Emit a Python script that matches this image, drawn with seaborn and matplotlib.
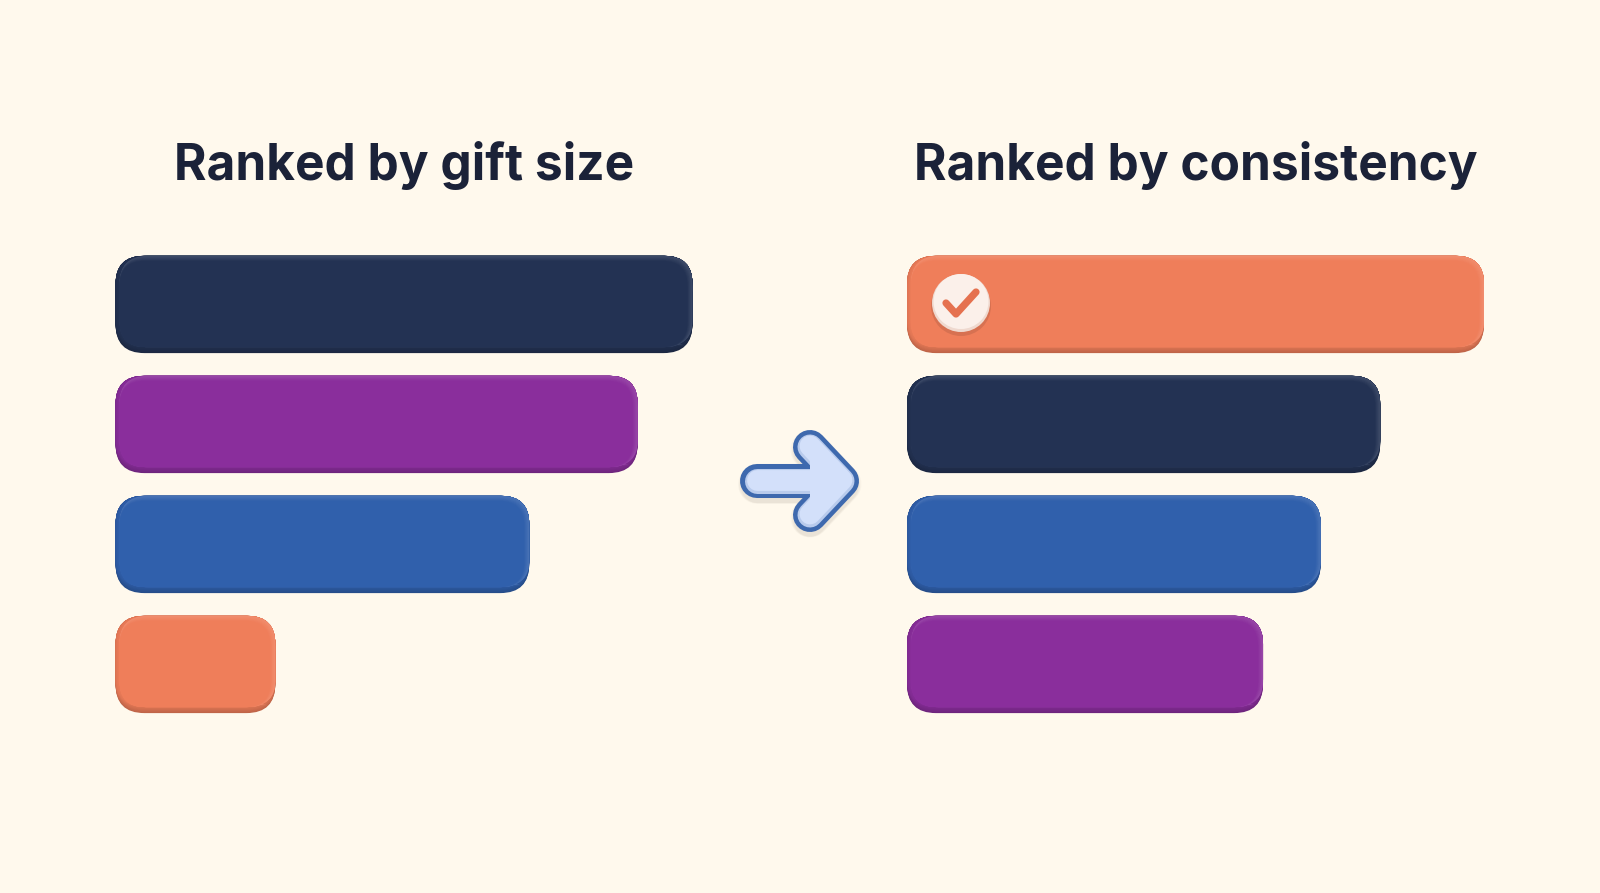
import matplotlib
matplotlib.use("Agg")
import matplotlib.pyplot as plt
import matplotlib.colors as mc
from matplotlib.patches import FancyBboxPatch, Circle, Polygon
import seaborn as sns

W, H = 1600, 893
BG = "#FFF9ED"
INK = "#1B2238"

# colours per donor
colores = {"navy": "#233253", "purple": "#8A2E9C", "blue": "#3060AC", "orange": "#EF7E5A"}

# estimated bar lengths, longest = 100
gift_names = ["navy", "purple", "blue", "orange"]
gift_values = [100, 90.5, 71.7, 27.7]
cons_names = ["orange", "navy", "blue", "purple"]
cons_values = [100, 82, 71.7, 61.7]

titles = ["Ranked by gift size", "Ranked by consistency"]

sns.set_theme(style="white")
plt.rcParams["font.family"] = ["Inter", "DejaVu Sans"]

fig = plt.figure(figsize=(W / 100, H / 100), dpi=100, facecolor=BG)


def pos(x0, x1, y0, y1):
    return [x0 / W, 1 - y1 / H, (x1 - x0) / W, (y1 - y0) / H]


ax1 = fig.add_axes(pos(115.5, 692.5, 244.5, 724.5))
ax2 = fig.add_axes(pos(907, 1484, 244.5, 724.5))
# overlay in pixels, so the corners stay round
over = fig.add_axes([0, 0, 1, 1], zorder=5)
over.set_xlim(0, W)
over.set_ylim(H, 0)
over.axis("off")


def blend(a, b, t):
    a, b = mc.to_rgb(a), mc.to_rgb(b)
    return tuple(a[i] + (b[i] - a[i]) * t for i in range(3))


def rbox(x0, y0, x1, y1, r, color, z=2):
    p = FancyBboxPatch((x0, y0), x1 - x0, y1 - y0, boxstyle=f"round,pad=0,rounding_size={r}",
                       fc=color, ec="none", lw=0, zorder=z)
    over.add_patch(p)


def soft_bar(x0, y0, x1, y1, base):
    dark = blend(base, "black", 0.2)
    side = blend(base, "black", 0.07)
    light = blend(base, "white", 0.12)
    mid = (y0 + y1) / 2
    rbox(x0, y0, x1, y1, 29, dark)
    n = 7
    # bottom edge fades out of the dark rim
    for i in range(1, n + 1):
        t = i / n
        rbox(x0, y0, x1, y1 - 6 * t, 29 - t, blend(dark, side, t), 3)
    # left edge
    for i in range(1, n + 1):
        t = i / n
        rbox(x0 + 4 * t, y0, x1, y1 - 6, 28, blend(side, base, t), 3)
    # highlight on top and right, the body covers it further in
    rbox(x0 + 4, y0, x1, mid + 10, 28, light, 3)
    rbox(x1 - 30, y0 + 10, x1, y1 - 8, 24, light, 3)
    for i in range(1, n + 1):
        t = i / n
        rbox(x0 + 4, y0 + 5 * t, x1 - 5 * t, y1 - 6, 28 - 3 * t, blend(light, base, t), 4)


for ax, names, values, title in zip([ax1, ax2], [gift_names, cons_names], [gift_values, cons_values], titles):
    sns.barplot(x=values, y=names, hue=names, palette=colores, order=names, hue_order=names,
                dodge=False, width=0.81, saturation=1, legend=False, ax=ax)
    ax.set_xlim(0, 100)
    ax.set_ylim(3.5, -0.5)
    ax.axis("off")
    ax.set_title(title, fontsize=35.7, fontweight="bold", color=INK, pad=46.2)
    fig.canvas.draw()
    to_px = ax.transData + over.transData.inverted()
    for b in list(ax.patches):
        xa, ya = to_px.transform((b.get_x(), b.get_y()))
        xb, yb = to_px.transform((b.get_x() + b.get_width(), b.get_y() + b.get_height()))
        soft_bar(xa, min(ya, yb), xb, max(ya, yb), b.get_facecolor())
        b.set_visible(False)

# check badge on the top right bar
cx, cy = 961, 303
over.add_patch(Circle((cx, cy + 3), 30, fc=blend(colores["orange"], "black", 0.1), ec="none", zorder=6))
over.add_patch(Circle((cx, cy), 29, fc="#EFD9CF", ec="none", zorder=7))
over.add_patch(Circle((cx, cy - 1.5), 27.5, fc="#FBF0EA", ec="none", zorder=8))
over.plot([946, 956, 976], [303, 314, 292], color="#E5714F", lw=5.2, solid_capstyle="round",
          solid_joinstyle="round", zorder=9)

# arrow between the panels
sx = [757, 815]
hx = [810, 842, 810]
hy = [447, 481, 515]
# soft shadow
for dy, lw_s, a in [(3, 28, 0.05), (4, 26, 0.06), (5, 24, 0.07)]:
    over.plot(sx, [481 + dy] * 2, color="#8A7F70", alpha=a, lw=lw_s, solid_capstyle="round", zorder=5)
    over.plot(hx, [v + dy for v in hy], color="#8A7F70", alpha=a, lw=lw_s, solid_capstyle="round",
              solid_joinstyle="round", zorder=5)
for col, lw, z, off in [("#3E69AE", 24.5, 6, 0), ("#B9CBEC", 18, 7, 0), ("#D3E0FA", 15, 8, -1)]:
    over.plot(sx, [481 + off] * 2, color=col, lw=lw, solid_capstyle="round", zorder=z)
    over.plot(hx, [v + off for v in hy], color=col, lw=lw, solid_capstyle="round",
              solid_joinstyle="round", zorder=z)
    if z > 6:
        over.add_patch(Polygon(list(zip(hx, [v + off for v in hy])), fc=col, ec="none", zorder=z))

fig.savefig("out.png", dpi=100, facecolor=BG)
